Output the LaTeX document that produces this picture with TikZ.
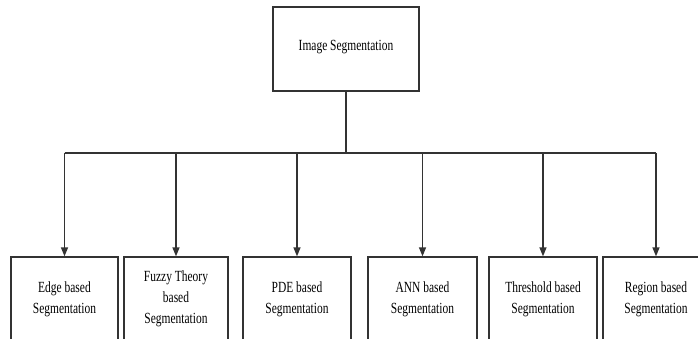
\documentclass[tikz,border=0pt]{standalone}
\usepackage{fontspec}
\setmainfont{Liberation Serif}[FakeStretch=0.74]
\usetikzlibrary{arrows.meta}
\begin{document}
\begin{tikzpicture}[x=1pt,y=-1pt,
  box/.style={draw=black!80, line width=1.3pt, inner sep=0pt, align=center,
    font=\fontsize{15.5}{21}\selectfont, text=black, fill=white},
  lowbox/.style={box, minimum height=84pt},
  conn/.style={draw=black!80, line width=1.3pt},
  arr/.style={conn, -{Triangle[length=9pt,width=7pt]}}]
\useasboundingbox (0,0) rectangle (698,339);
\fill[white] (0,0) rectangle (698,339);
\clip (0,0) rectangle (698,339);
\node[box, minimum width=146pt, minimum height=84pt] (top) at (346,49) {\raisebox{7pt}{Image Segmentation}};
\node[lowbox, minimum width=107pt] (edge) at (64.5,299) {Edge based\\Segmentation};
\node[lowbox, minimum width=104pt] (fuzzy) at (176,299) {Fuzzy Theory\\based\\Segmentation};
\node[lowbox, minimum width=108pt] (pde) at (297,299) {PDE based\\Segmentation};
\node[lowbox, minimum width=109pt] (ann) at (422.5,299) {ANN based\\Segmentation};
\node[lowbox, minimum width=108pt] (thr) at (543,299) {Threshold based\\Segmentation};
\node[lowbox, minimum width=106pt] (reg) at (656,299) {Region based\\Segmentation};
\coordinate (j) at (346,153);
\draw[conn] (top.south) -- (j);
\draw[conn] (edge.north |- j) -- (reg.north |- j);
\foreach \n in {edge,fuzzy,pde,ann,thr,reg}
  \draw[arr] (\n.north |- j) -- (\n.north);
\end{tikzpicture}
\end{document}
